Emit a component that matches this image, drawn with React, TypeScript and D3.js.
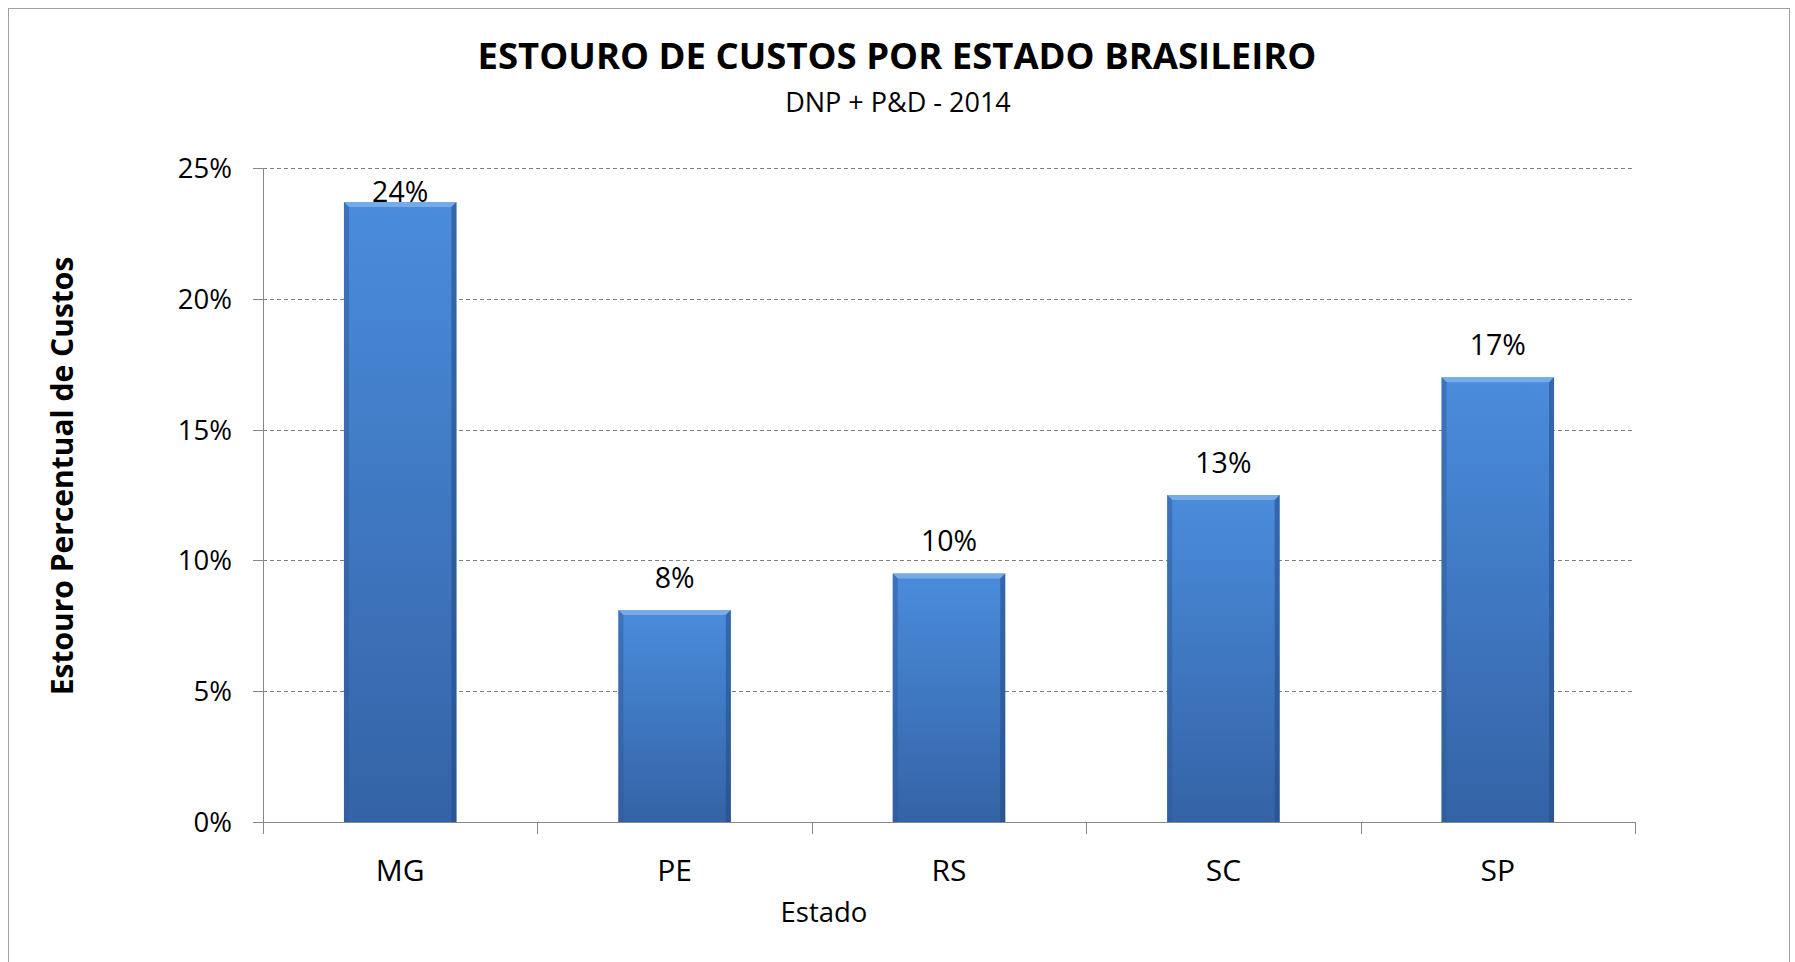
import React from 'react';
import * as d3 from 'd3';

const states = ['MG', 'PE', 'RS', 'SC', 'SP'];
const overrun = [0.237, 0.081, 0.095, 0.125, 0.17];
const valueLabels = ['24%', '8%', '10%', '13%', '17%'];
const yTicks = [0, 0.05, 0.1, 0.15, 0.2, 0.25];

const W = 1795;
const H = 962;
const margin = { top: 168, right: 160, bottom: 140, left: 263 };
const FONT = "'Open Sans', 'Noto Sans', sans-serif";

const App = () => {
  const innerW = W - margin.left - margin.right;
  const innerH = H - margin.top - margin.bottom;

  const x = d3.scaleBand<string>()
    .domain(states)
    .range([0, innerW])
    .paddingInner(0.59)
    .paddingOuter(0.295);

  const y = d3.scaleLinear().domain([0, 0.25]).range([innerH, 0]);
  const step = x.step();
  const bevel = 5;

  return (
    <svg width={W} height={H} style={{ position: 'absolute', left: 0, top: 0, background: '#fff' }}>
      <defs>
        <linearGradient id="barFill" x1="0" y1="0" x2="0" y2="1">
          <stop offset="0%" stopColor="#4a8cdc" />
          <stop offset="100%" stopColor="#3463a6" />
        </linearGradient>
      </defs>

      {/* chart frame */}
      <rect x={8.5} y={8.5} width={1781} height={960} fill="none" stroke="#a0a0a0" strokeWidth={1} />

      {/* titles */}
      <text x={897} y={69} textAnchor="middle" fontFamily={FONT} fontWeight={700} fontSize={36.5} fill="#000">
        ESTOURO DE CUSTOS POR ESTADO BRASILEIRO
      </text>
      <text x={898} y={112} textAnchor="middle" fontFamily={FONT} fontSize={27} fill="#000">
        DNP + P&amp;D - 2014
      </text>

      <g transform={`translate(${margin.left},${margin.top})`}>
        {/* gridlines */}
        {yTicks.filter(t => t > 0).map(t => (
          <line key={t} x1={0} x2={innerW} y1={Math.round(y(t)) + 0.5} y2={Math.round(y(t)) + 0.5}
            stroke="#7f7f7f" strokeWidth={1} strokeDasharray="4,3" />
        ))}

        {/* y axis */}
        <line x1={0.5} x2={0.5} y1={0} y2={innerH + 12} stroke="#888" />
        {yTicks.map(t => (
          <g key={t}>
            <line x1={-10} x2={0} y1={Math.round(y(t)) + 0.5} y2={Math.round(y(t)) + 0.5} stroke="#888" />
            <text x={-31} y={y(t)} dy="0.36em" textAnchor="end" fontFamily={FONT} fontSize={27.5} fill="#000">
              {d3.format('.0%')(t)}
            </text>
          </g>
        ))}

        {/* bars */}
        {states.map((s, i) => {
          const bx = x(s) ?? 0;
          const bw = x.bandwidth();
          const top = y(overrun[i]);
          const bh = innerH - top;
          return (
            <g key={s}>
              <rect x={bx} y={top} width={bw} height={bh} fill="url(#barFill)" />
              <polygon points={`${bx},${top} ${bx + bw},${top} ${bx + bw - bevel},${top + bevel} ${bx + bevel},${top + bevel}`}
                fill="#7fb0ea" opacity={0.85} />
              <polygon points={`${bx},${top} ${bx + bevel},${top + bevel} ${bx + bevel},${innerH} ${bx},${innerH}`}
                fill="#2e5a9a" opacity={0.5} />
              <polygon points={`${bx + bw},${top} ${bx + bw - bevel},${top + bevel} ${bx + bw - bevel},${innerH} ${bx + bw},${innerH}`}
                fill="#234a82" opacity={0.55} />
              <text x={bx + bw / 2} y={Math.max(top - 22, 34)} textAnchor="middle" fontFamily={FONT} fontSize={28.5} fill="#000">
                {valueLabels[i]}
              </text>
            </g>
          );
        })}

        {/* x axis */}
        <line x1={-10} x2={innerW} y1={innerH + 0.5} y2={innerH + 0.5} stroke="#888" />
        {d3.range(states.length + 1).map(k => (
          <line key={k} x1={Math.round(k * step) + 0.5} x2={Math.round(k * step) + 0.5}
            y1={innerH} y2={innerH + 12} stroke="#888" />
        ))}
        {states.map(s => (
          <text key={s} x={(x(s) ?? 0) + x.bandwidth() / 2} y={innerH + 59} textAnchor="middle"
            fontFamily={FONT} fontSize={30} fill="#000">
            {s}
          </text>
        ))}

        {/* axis titles */}
        <text x={561} y={innerH + 100} textAnchor="middle" fontFamily={FONT} fontSize={27.5} fill="#000">
          Estado
        </text>
      </g>
      <text transform="translate(73,476) rotate(-90)" textAnchor="middle" fontFamily={FONT}
        fontWeight={700} fontSize={30} fill="#000">
        Estouro Percentual de Custos
      </text>
    </svg>
  );
};

export default App;
